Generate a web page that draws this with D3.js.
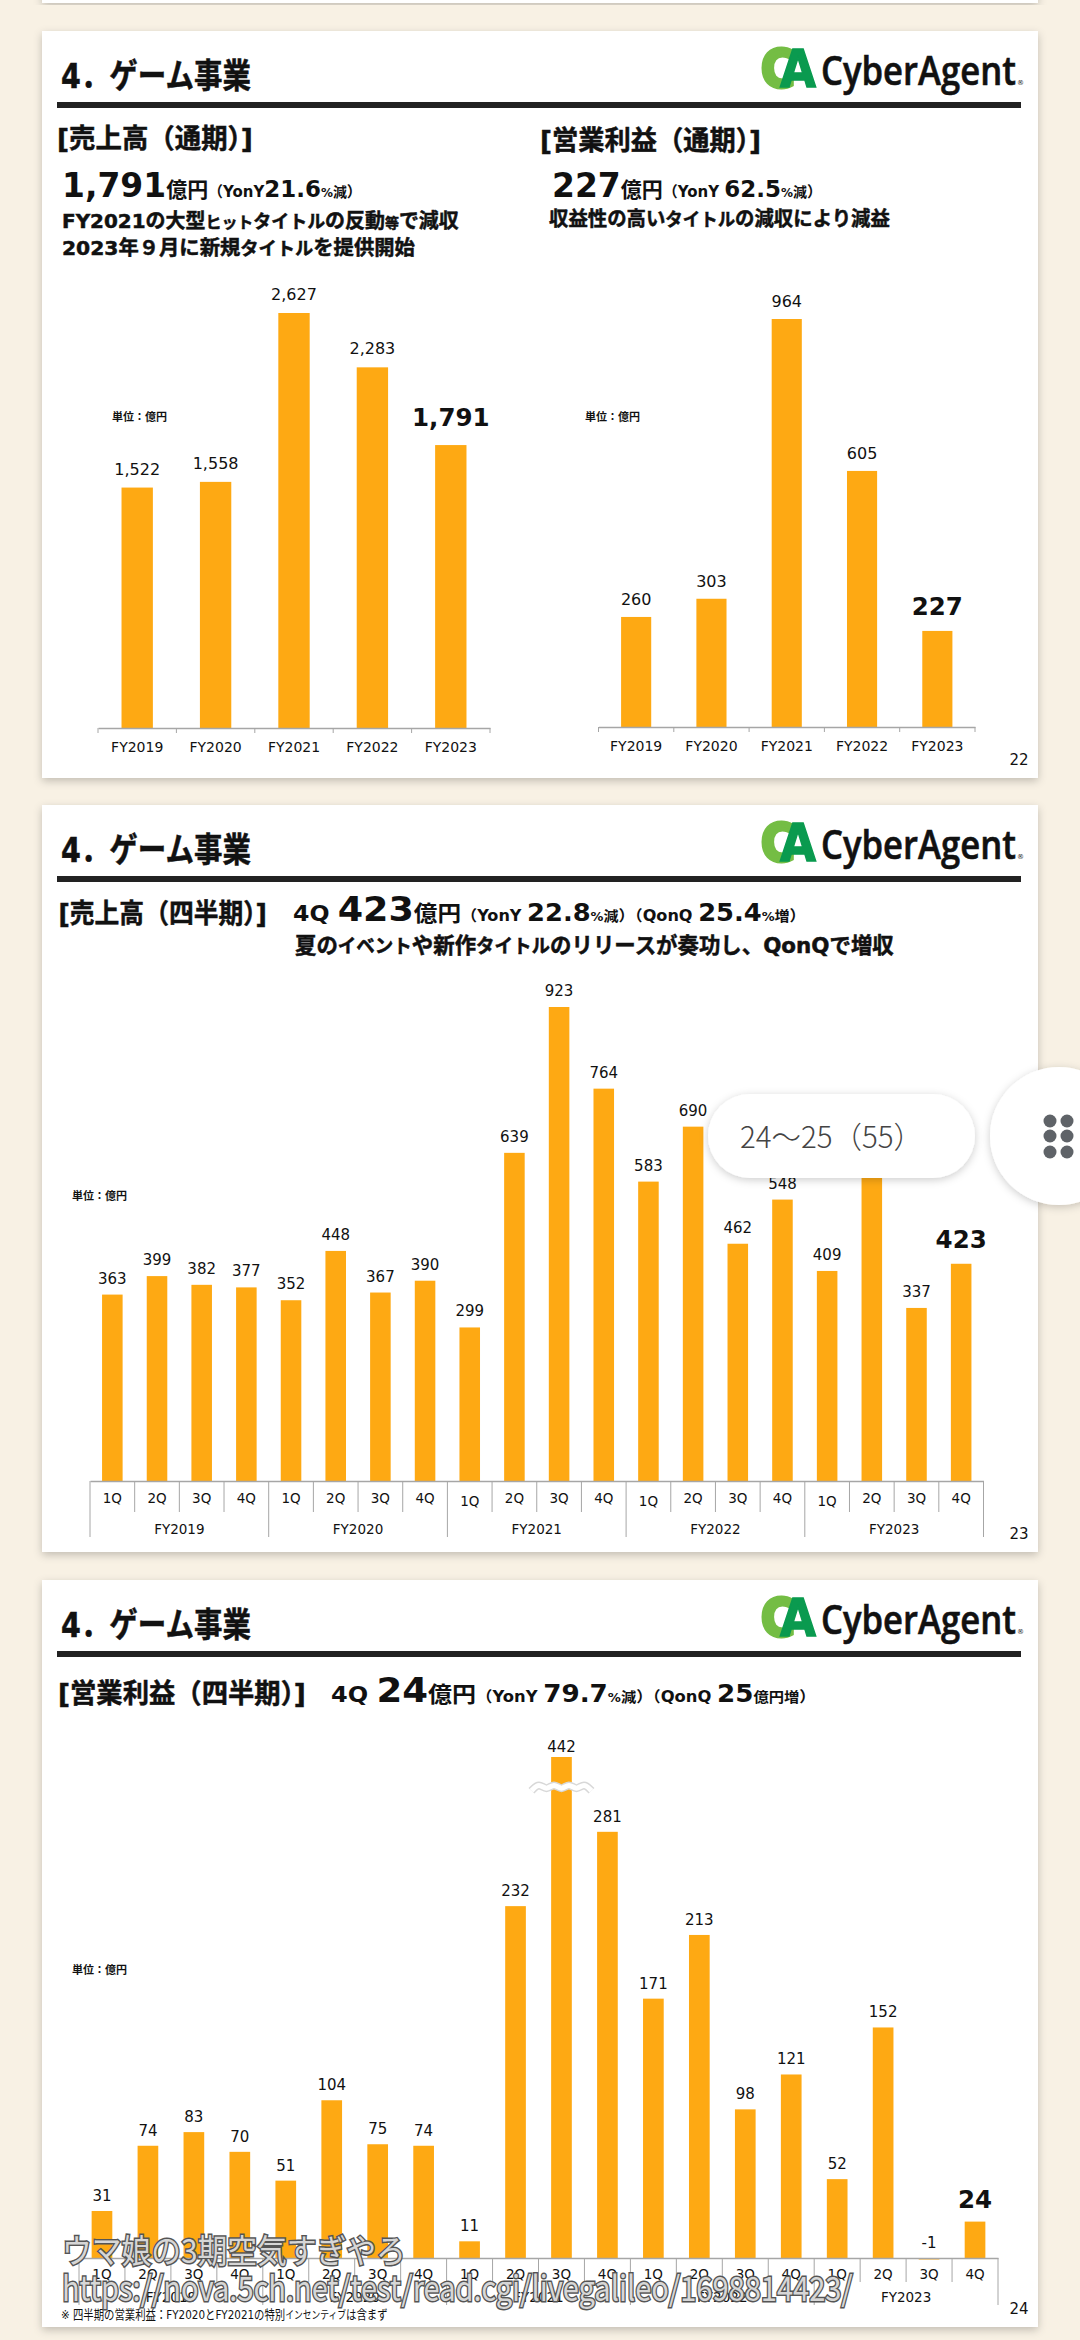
<!DOCTYPE html>
<html>
<head>
<meta charset="utf-8">
<script src="https://cdn.jsdelivr.net/npm/d3@7"></script>
<style>
  html, body { margin: 0; padding: 0; background: #f8f1e4; }
  svg { display: block; }
  text { font-family: "DejaVu Sans", "Noto Sans CJK JP", sans-serif; fill: #111; }
  .axis path { stroke: #a6a6a6; stroke-width: 1.5; }
  .sep { stroke: #a6a6a6; stroke-width: 1; }
  .heavy { stroke: #111; stroke-width: 0.5; }
</style>
</head>
<body>
<div class="chart"></div>
<script>
// Data
var fiscalYears = ["FY2019", "FY2020", "FY2021", "FY2022", "FY2023"];
var annualSales = [1522, 1558, 2627, 2283, 1791];
var annualProfit = [260, 303, 964, 605, 227];
var quarterNames = ["1Q", "2Q", "3Q", "4Q"];
var quarterlySales = [363, 399, 382, 377, 352, 448, 367, 390, 299, 639, 923, 764, 583, 690, 462, 548, 409, 622, 337, 423];
var quarterlyProfit = [31, 74, 83, 70, 51, 104, 75, 74, 11, 232, 442, 281, 171, 213, 98, 121, 52, 152, -1, 24];
var profitBreakValue = 350;

var barColor = "#fea913";
var svgWidth = 1080;
var svgHeight = 2340;

var svg = d3.select(".chart").append("svg")
  .attr("width", svgWidth)
  .attr("height", svgHeight);

var defs = svg.append("defs");
var shadow = defs.append("filter").attr("id", "panelShadow")
  .attr("x", "-5%").attr("y", "-5%").attr("width", "110%").attr("height", "110%");
shadow.append("feDropShadow").attr("dx", 0).attr("dy", 3).attr("stdDeviation", 4)
  .attr("flood-color", "#000").attr("flood-opacity", 0.22);

// Draws a line of mixed size text and squeezes it to fit between x0 and x1
function fitLine(g, x0, x1, baseline, runs, weight, family) {
  var t = g.append("text").attr("font-weight", weight || 700);
  if (family) t.style("font-family", family);
  runs.forEach(function(r) {
    t.append("tspan").attr("font-size", r[1]).text(r[0]);
  });
  var k = (x1 - x0) / t.node().getComputedTextLength();
  t.attr("transform", `translate(${x0}, ${baseline}) scale(${k}, 1)`);
  return t;
}

// Panel frame: white slide, title, rule and logo
function drawPanel(top, pageNo, pageY) {
  var dy = top - 31;
  svg.append("rect")
    .attr("x", 42).attr("y", top)
    .attr("width", 996).attr("height", 747)
    .attr("fill", "#fff")
    .attr("filter", "url(#panelShadow)");

  var g = svg.append("g").attr("transform", `translate(0, ${dy})`);
  fitLine(g, 61, 251, 88, [["4．ゲーム事業", 34]]).attr("class", "heavy");
  g.append("rect").attr("x", 57).attr("y", 102).attr("width", 964).attr("height", 6).attr("fill", "#222");

  // logo
  fitLine(g, 761, 795, 87, [["C", 52]]).style("fill", "#74bd44").style("stroke", "#74bd44").style("stroke-width", 4);
  fitLine(g, 780, 816, 87, [["A", 52]]).style("fill", "#0a9a4f").style("stroke", "#0a9a4f").style("stroke-width", 1.5);
  fitLine(g, 821, 1016, 85, [["CyberAgent", 39]], 600, "'Open Sans', sans-serif").style("stroke", "#111").style("stroke-width", 0.6);
  g.append("text").attr("x", 1017).attr("y", 85).attr("font-size", 7).text("®");

  svg.append("text").attr("x", 1019).attr("y", pageY)
    .attr("text-anchor", "middle").attr("font-size", 15).text(pageNo);
}

// Bar chart used for all four charts
function drawBars(cfg) {
  var g = svg.append("g");
  var x = d3.scaleBand()
    .domain(cfg.keys)
    .range(cfg.xRange)
    .paddingInner(cfg.padding)
    .paddingOuter(cfg.padding / 2);
  var step = x.step();
  var left = function(k) { return x(k) - step * cfg.padding / 2; };

  g.selectAll("rect.bar")
    .data(cfg.values)
    .enter()
    .append("rect")
    .attr("class", "bar")
    .attr("x", (d, i) => x(cfg.keys[i]))
    .attr("y", d => Math.min(cfg.y(d), cfg.y(0)))
    .attr("width", x.bandwidth())
    .attr("height", d => Math.abs(cfg.y(0) - cfg.y(d)))
    .attr("fill", barColor);

  // value labels, last one large
  var last = cfg.values.length - 1;
  var peak = cfg.values.indexOf(d3.max(cfg.values));
  g.selectAll("text.val")
    .data(cfg.values)
    .enter()
    .append("text")
    .attr("class", "val")
    .attr("x", (d, i) => x(cfg.keys[i]) + x.bandwidth() / 2)
    .attr("y", function(d, i) {
      var gap = i === last ? cfg.bigGap : (i === peak && cfg.peakGap ? cfg.peakGap : cfg.gap);
      return Math.min(cfg.y(d), cfg.y(0)) - gap;
    })
    .attr("text-anchor", "middle")
    .attr("font-size", (d, i) => i === last ? 24.5 : cfg.labelSize)
    .attr("font-weight", (d, i) => i === last ? 700 : 400)
    .text(d => d3.format(",")(d).replace("−", "-"));

  var axis = d3.axisBottom(x).tickSize(0).tickSizeOuter(0).tickFormat("");
  g.append("g")
    .attr("class", "axis")
    .attr("transform", `translate(0, ${cfg.y(0)})`)
    .call(axis);

  g.append("text")
    .attr("x", cfg.unitX).attr("y", cfg.unitY)
    .attr("font-size", 11).attr("font-weight", 700)
    .text("単位：億円");

  return { g: g, x: x, left: left, step: step };
}

function drawAnnual(values, xRange, yBase, yTop, unitX, gap, bigGap) {
  var y = d3.scaleLinear().domain([0, d3.max(values)]).range([yBase, yTop]);
  var c = drawBars({
    keys: fiscalYears, values: values, xRange: xRange, padding: 0.6, y: y,
    gap: gap, bigGap: bigGap, labelSize: 16, unitX: unitX, unitY: 421
  });
  var edges = fiscalYears.map(c.left).concat([xRange[1]]);
  c.g.selectAll("line.sep").data(edges).enter().append("line")
    .attr("class", "sep")
    .attr("x1", d => d).attr("x2", d => d)
    .attr("y1", yBase).attr("y2", yBase + 5);
  c.g.selectAll("text.tick").data(fiscalYears).enter().append("text")
    .attr("class", "tick")
    .attr("x", d => c.x(d) + c.x.bandwidth() / 2)
    .attr("y", yBase + 24)
    .attr("text-anchor", "middle")
    .attr("font-size", 14)
    .text(d => d);
}

function drawQuarterly(values, xRange, y, cfg) {
  var keys = d3.range(values.length);
  var c = drawBars({
    keys: keys, values: values, xRange: xRange, padding: cfg.padding, y: y,
    gap: cfg.gap, bigGap: cfg.bigGap, peakGap: cfg.peakGap, labelSize: 15, unitX: cfg.unitX, unitY: cfg.unitY
  });
  var yBase = y(0);
  var edges = keys.map(c.left).concat([xRange[1]]);
  c.g.selectAll("line.sep").data(edges).enter().append("line")
    .attr("class", "sep")
    .attr("x1", d => d).attr("x2", d => d)
    .attr("y1", yBase)
    .attr("y2", (d, i) => i % 4 === 0 ? yBase + cfg.yearDrop : yBase + cfg.quarterDrop);
  c.g.selectAll("text.tick").data(keys).enter().append("text")
    .attr("class", "tick")
    .attr("x", d => c.x(d) + c.x.bandwidth() / 2)
    .attr("y", d => yBase + cfg.quarterText + (cfg.lowFirst && d >= 8 && d % 4 === 0 ? 3 : 0))
    .attr("text-anchor", "middle")
    .attr("font-size", 13.5)
    .text(d => quarterNames[d % 4]);
  c.g.selectAll("text.year").data(fiscalYears).enter().append("text")
    .attr("class", "year")
    .attr("x", (d, i) => c.left(i * 4) + c.step * 2)
    .attr("y", yBase + cfg.yearText)
    .attr("text-anchor", "middle")
    .attr("font-size", 13.5)
    .text(d => d);
  return c;
}

// Page background pieces
svg.append("rect").attr("x", 42).attr("y", -20).attr("width", 996).attr("height", 23)
  .attr("fill", "#fff").attr("filter", "url(#panelShadow)");
drawPanel(31, "22", 765);
drawPanel(805, "23", 1539);
drawPanel(1580, "24", 2314);

// Slide 22 text
fitLine(svg, 57, 253, 148, [["[売上高（通期）]", 27]]).attr("class", "heavy");
fitLine(svg, 540, 761, 150, [["[営業利益（通期）]", 27]]).attr("class", "heavy");
fitLine(svg, 62, 362, 197, [["1,791", 33], ["億円", 21], ["（YonY", 15], ["21.6", 23], ["%", 12], ["減", 14], ["）", 15]]);
fitLine(svg, 552, 822, 197, [["227", 33], ["億円", 21], ["（YonY ", 15], ["62.5", 23], ["%", 12], ["減", 14], ["）", 15]]);
fitLine(svg, 62, 459, 228, [["FY2021の大型", 20], ["ヒット", 16], ["タイトル", 18], ["の反動", 20], ["等", 14], ["で減収", 20]]).attr("class", "heavy");
fitLine(svg, 62, 415, 255, [["2023年９月に新規", 20], ["タイトル", 18], ["を提供開始", 20]]).attr("class", "heavy");
fitLine(svg, 549, 890, 226, [["収益性の高い", 20], ["タイトル", 18], ["の減収により減益", 20]]).attr("class", "heavy");

drawAnnual(annualSales, [98, 490], 728, 313, 112, 13, 19);
drawAnnual(annualProfit, [598.5, 975], 727, 319, 585, 12, 16);

// Slide 23 text
fitLine(svg, 58.5, 267, 923, [["[売上高（四半期）]", 27]]).attr("class", "heavy");
fitLine(svg, 293, 806, 921, [["4Q ", 22], ["423", 34], ["億円", 22], ["（YonY ", 15], ["22.8", 24], ["%", 12], ["減", 14], ["）（QonQ ", 15], ["25.4", 24], ["%", 12], ["増", 14], ["）", 15]]);
fitLine(svg, 295, 894, 953, [["夏の", 22], ["イベント", 19], ["や新作", 22], ["タイトル", 19], ["のリリースが奏功し、QonQで増収", 22]]).attr("class", "heavy");

var ySales = d3.scaleLinear().domain([0, d3.max(quarterlySales)]).range([1481, 1007]);
drawQuarterly(quarterlySales, [90, 983.5], ySales, {
  padding: 0.54, gap: 11, bigGap: 16, unitX: 72, unitY: 1200,
  quarterDrop: 31, yearDrop: 56, quarterText: 22, yearText: 53, lowFirst: true
});

// Slide 24 text
fitLine(svg, 58, 306, 1703, [["[営業利益（四半期）]", 27]]).attr("class", "heavy");
fitLine(svg, 331, 816, 1702, [["4Q  ", 22], ["24", 34], ["億円", 22], ["（YonY ", 15], ["79.7", 24], ["%", 12], ["減", 14], ["）（QonQ ", 15], ["25", 24], ["億円増", 14], ["）", 15]]);

// Profit chart has a broken axis, so the scale bends above the break
var yProfit = d3.scaleLinear().domain([0, 300, d3.max(quarterlyProfit)]).range([2258, 1803, 1757]);
var profitChart = drawQuarterly(quarterlyProfit, [79, 998], yProfit, {
  padding: 0.55, gap: 10, bigGap: 14, peakGap: 5, unitX: 72, unitY: 1974,
  quarterDrop: 24, yearDrop: 47, quarterText: 21, yearText: 44, lowFirst: false
});

// wave mark across the broken bar
var breakIndex = quarterlyProfit.indexOf(d3.max(quarterlyProfit));
var breakX = profitChart.x(breakIndex) + profitChart.x.bandwidth() / 2;
var waveLine = d3.line().curve(d3.curveBasis);
var wave = d3.range(-30, 31, 7.5).map(function(dx, i) {
  return [breakX + dx, yProfit(profitBreakValue) + (i % 2 === 0 ? 4 : -4)];
});
svg.append("path").attr("d", waveLine(wave)).attr("fill", "none").attr("stroke", "#d8d8d8").attr("stroke-width", 8);
svg.append("path").attr("d", waveLine(wave)).attr("fill", "none").attr("stroke", "#fff").attr("stroke-width", 5);

fitLine(svg, 61, 388, 2319, [["※ 四半期の営業利益：FY2020とFY2021の特別", 13], ["インセンティブ", 11], ["は含まず", 13]], 400);

// Overlaid comment text
[["ウマ娘の3期空気すぎやろ", 62, 406, 2263, 33], ["https://nova.5ch.net/test/read.cgi/livegalileo/1698814423/", 62, 853, 2301, 34]].forEach(function(o) {
  fitLine(svg, o[1], o[2], o[3], [[o[0], o[4]]], 400, "'Noto Sans CJK JP', sans-serif")
    .style("fill", "#efefef")
    .style("fill-opacity", 0.85)
    .style("stroke", "#555")
    .style("stroke-width", 3)
    .style("paint-order", "stroke");
});

// Floating page jump pill and menu button
var uiShadow = defs.append("filter").attr("id", "uiShadow")
  .attr("x", "-20%").attr("y", "-20%").attr("width", "140%").attr("height", "140%");
uiShadow.append("feDropShadow").attr("dx", 0).attr("dy", 2).attr("stdDeviation", 4)
  .attr("flood-color", "#000").attr("flood-opacity", 0.2);

svg.append("rect")
  .attr("x", 708).attr("y", 1094)
  .attr("width", 267).attr("height", 84).attr("rx", 42)
  .attr("fill", "#fff").attr("filter", "url(#uiShadow)");
fitLine(svg, 740, 923, 1148, [["24〜25（55）", 30]], 300, "'Noto Sans CJK JP', sans-serif")
  .style("fill", "#444");

svg.append("circle")
  .attr("cx", 1059).attr("cy", 1136).attr("r", 69)
  .attr("fill", "#fff").attr("filter", "url(#uiShadow)");
var dotX = [1050, 1067];
var dotY = [1121, 1136, 1152];
dotY.forEach(function(cy) {
  dotX.forEach(function(cx) {
    svg.append("circle").attr("cx", cx).attr("cy", cy).attr("r", 6.5).attr("fill", "#5f6368");
  });
});
</script>
</body>
</html>
